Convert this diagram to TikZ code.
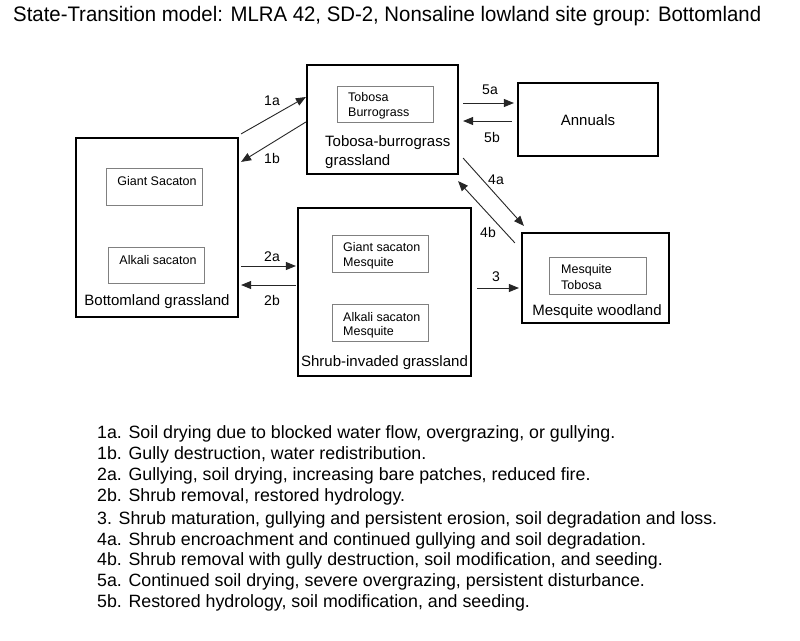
\documentclass[tikz,border=0pt]{standalone}
\usepackage{fontspec}
\setmainfont{Liberation Sans}
\usetikzlibrary{arrows.meta,calc}
\begin{document}
\begin{tikzpicture}[x=1pt,y=-1pt,
 state/.style={draw=black,line width=2.2pt,rectangle,inner sep=0pt},
 sub/.style={draw=black!50,line width=0.9pt,rectangle,inner sep=0pt},
 lab/.style={font=\fontsize{15}{19}\selectfont,inner sep=0pt},
 sublab/.style={font=\fontsize{12.5}{15}\selectfont,inner sep=0pt,align=left},
 tr/.style={draw=black!85,line width=0.9pt,-{Triangle[length=10pt,width=8pt]}},
 num/.style={font=\fontsize{14}{16}\selectfont,inner sep=0pt},
 legend/.style={font=\fontsize{17.8}{21}\selectfont,inner sep=0pt,anchor=base west}]
\useasboundingbox[fill=white] (0,0) rectangle (800,640);

% title
\node[anchor=west,inner sep=0pt,font=\fontsize{21}{24}\selectfont] (title) at (13,16)
  {\scalebox{0.97}[1]{State-Transition model: MLRA 42, SD-2, Nonsaline lowland site group: Bottomland}};

% state boxes
\node[state,minimum width=151pt,minimum height=109pt] (tb) at (382.5,119.5) {};
\node[state,minimum width=140pt,minimum height=73pt] (an) at (588,119.5) {};
\node[state,minimum width=162pt,minimum height=179pt] (bg) at (157,227.5) {};
\node[state,minimum width=173pt,minimum height=168pt] (sg) at (384.5,292) {};
\node[state,minimum width=147pt,minimum height=90pt] (mw) at (595.5,278) {};

% inner boxes
\node[sub,minimum width=96pt,minimum height=36pt] (tbi) at (385,104) {};
\node[sub,minimum width=96pt,minimum height=37pt] (bgi1) at (154,186.5) {};
\node[sub,minimum width=96pt,minimum height=36pt] (bgi2) at (156,265) {};
\node[sub,minimum width=96pt,minimum height=37pt] (sgi1) at (380,253.5) {};
\node[sub,minimum width=96pt,minimum height=37pt] (sgi2) at (380,322.5) {};
\node[sub,minimum width=97pt,minimum height=37pt] (mwi) at (597.5,275.5) {};

% inner texts
\node[sublab,anchor=west] (tbit) at (348,105.5) {Tobosa\\Burrograss};
\node[sublab] (bgi1t) at (157,181) {Giant Sacaton};
\node[sublab] (bgi2t) at (158,260) {Alkali sacaton};
\node[sublab,anchor=west,font=\fontsize{12.5}{14.5}\selectfont] (sgi1t) at (343,256) {Giant sacaton\\Mesquite};
\node[sublab,anchor=west,font=\fontsize{12.5}{14.5}\selectfont] (sgi2t) at (343,325.5) {Alkali sacaton\\Mesquite};
\node[sublab,anchor=west,font=\fontsize{12.5}{16}\selectfont] (mwit) at (561,277) {Mesquite\\Tobosa};

% state labels
\node[lab,anchor=west,align=left] (tbl) at (325,152.5) {Tobosa-burrograss\\grassland};
\node[lab] (anl) at (588,120) {Annuals};
\node[lab] (bgl) at (157,302) {Bottomland grassland};
\node[lab] (sgl) at (384.5,363) {Shrub-invaded grassland};
\node[lab] (mwl) at (597,312) {Mesquite woodland};

% transitions
\draw[tr] ($(bg.north east)+(2,-3)$) -- ($(tb.west)+(0,-22.5)$);
\draw[tr] ($(tb.west)+(0,2.5)$) -- ($(bg.north east)+(2,25)$);
\draw[tr] ($(tb.east)+(4,-16.5)$) -- ($(an.west)+(-3,-16.5)$);
\draw[tr] ($(an.west)+(-5,1.5)$) -- ($(tb.east)+(4,1.5)$);
\draw[tr] ($(tb.south east)+(4,-17)$) -- ($(mw.north west)+(3,-6)$);
\draw[tr] ($(mw.north west)+(-6,11)$) -- ($(tb.south east)+(-1,6)$);
\draw[tr] ($(bg.east)+(2,38.5)$) -- ($(sg.west)+(-1,-26)$);
\draw[tr] ($(sg.west)+(-1,-7)$) -- ($(bg.east)+(2,57.5)$);
\draw[tr] ($(sg.east)+(5,-4)$) -- ($(mw.west)+(-2,10)$);

% transition labels
\node[num] (l1a) at (272,101) {1a};
\node[num] (l1b) at (272,158) {1b};
\node[num] (l5a) at (490,90) {5a};
\node[num] (l5b) at (492,137) {5b};
\node[num] (l4a) at (496,180) {4a};
\node[num] (l4b) at (488,232) {4b};
\node[num] (l2a) at (272,257) {2a};
\node[num] (l2b) at (272,300) {2b};
\node[num] (l3) at (496,277) {3};

% legend
\node[legend] (t1a) at (97,438) {1a. Soil drying due to blocked water flow, overgrazing, or gullying.};
\node[legend] (t1b) at (97,459) {1b. Gully destruction, water redistribution.};
\node[legend] (t2a) at (97,480) {2a. Gullying, soil drying, increasing bare patches, reduced fire.};
\node[legend] (t2b) at (97,501.5) {2b. Shrub removal, restored hydrology.};
\node[legend] (t3) at (97,524) {3. Shrub maturation, gullying and persistent erosion, soil degradation and loss.};
\node[legend] (t4a) at (97,545) {4a. Shrub encroachment and continued gullying and soil degradation.};
\node[legend] (t4b) at (97,565) {4b. Shrub removal with gully destruction, soil modification, and seeding.};
\node[legend] (t5a) at (97,586.5) {5a. Continued soil drying, severe overgrazing, persistent disturbance.};
\node[legend] (t5b) at (97,607) {5b. Restored hydrology, soil modification, and seeding.};
\end{tikzpicture}
\end{document}
